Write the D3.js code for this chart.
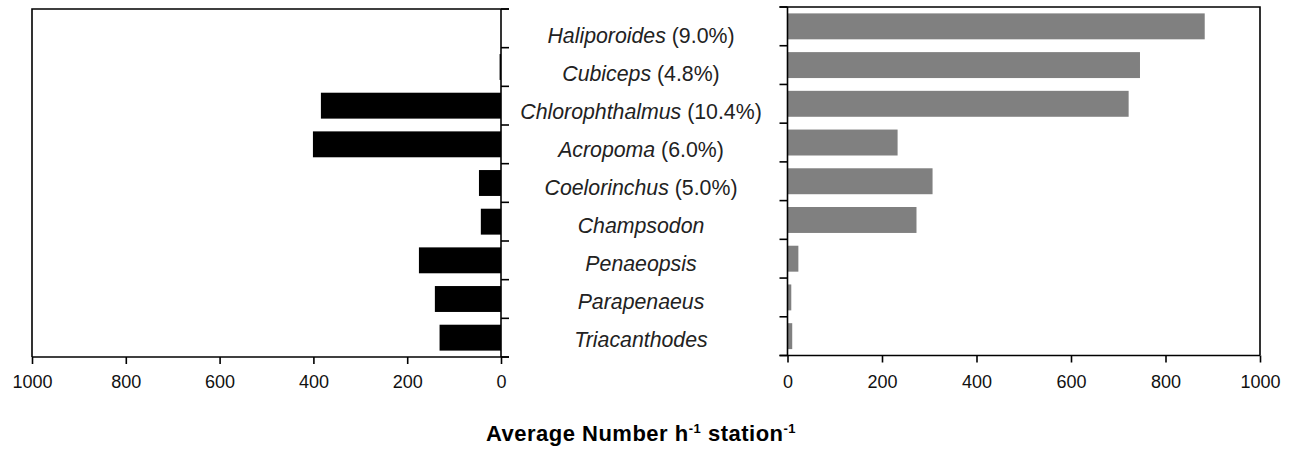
<!DOCTYPE html>
<html>
<head>
<meta charset="utf-8">
<script src="https://cdn.jsdelivr.net/npm/d3@7"></script>
<style>
  body { margin: 0; background: #fff; }
  svg { display: block; font-family: "Liberation Sans", Arial, sans-serif; }
</style>
</head>
<body>
<svg id="chart"></svg>
<script>
// Two mirrored bar panels sharing the genus labels in the middle

const width = 1294, height = 451;

const genera   = ["Haliporoides", "Cubiceps", "Chlorophthalmus", "Acropoma", "Coelorinchus",
                  "Champsodon", "Penaeopsis", "Parapenaeus", "Triacanthodes"];
const percents = ["9.0%", "4.8%", "10.4%", "6.0%", "5.0%", "", "", "", ""];
const leftValues  = [0, 3, 384, 401, 47, 43, 175, 141, 131];
const rightValues = [883, 746, 722, 233, 307, 273, 23, 8, 10];
const xTicks = [0, 200, 400, 600, 800, 1000];

const data = genera.map((g, i) => ({
  name: g, pct: percents[i], left: leftValues[i], right: rightValues[i]
}));

const svg = d3.select("#chart")
  .attr("width", width)
  .attr("height", height);

// scales
const xLeft  = d3.scaleLinear().domain([1000, 0]).range([32, 501]);
const xRight = d3.scaleLinear().domain([0, 1000]).range([787.5, 1260]);
const yLeft  = d3.scaleBand().domain(genera).range([9, 357]).paddingInner(0.33).paddingOuter(0.165);
const yRight = d3.scaleBand().domain(genera).range([7, 355.5]).paddingInner(0.33).paddingOuter(0.165);
// the labels sit on their own slightly tighter grid
const yLabel = d3.scalePoint().domain(genera).range([36, 340]);

// bars
svg.append("g").selectAll("rect")
  .data(data)
  .join("rect")
  .attr("x", d => xLeft(d.left))
  .attr("y", d => yLeft(d.name))
  .attr("width", d => xLeft(0) - xLeft(d.left))
  .attr("height", yLeft.bandwidth())
  .attr("fill", "#000");

svg.append("g").selectAll("rect")
  .data(data)
  .join("rect")
  .attr("x", xRight(0))
  .attr("y", d => yRight(d.name))
  .attr("width", d => xRight(d.right) - xRight(0))
  .attr("height", yRight.bandwidth())
  .attr("fill", "#808080");

// band boundary ticks for the value axes
function boundaries(scale) {
  const step = scale.step();
  const r = scale.range();
  return d3.range(genera.length + 1).map(i => r[0] + i * step);
}

const frame = { stroke: "#000", "stroke-width": 1.6, fill: "none" };
function styled(sel) {
  Object.entries(frame).forEach(([k, v]) => sel.attr(k, v));
  return sel;
}

// left panel: frame on left + top, y axis at zero on the right
const lTop = yLeft.range()[0], lBot = yLeft.range()[1];
styled(svg.append("path")
  .attr("d", `M${xLeft(0) + 8},${lTop}H${xLeft(1000)}V${lBot}`));
styled(svg.append("line")
  .attr("x1", xLeft(0)).attr("x2", xLeft(0))
  .attr("y1", lTop).attr("y2", lBot));
svg.append("g").selectAll("line")
  .data(boundaries(yLeft))
  .join("line")
  .attr("x1", xLeft(0)).attr("x2", xLeft(0) + 8)
  .attr("y1", d => d).attr("y2", d => d)
  .attr("stroke", "#000").attr("stroke-width", 1.6);

// right panel: frame on right + top, y axis at zero on the left
const rTop = yRight.range()[0], rBot = yRight.range()[1];
styled(svg.append("path")
  .attr("d", `M${xRight(0) - 8},${rTop}H${xRight(1000)}V${rBot}`));
styled(svg.append("line")
  .attr("x1", xRight(0)).attr("x2", xRight(0))
  .attr("y1", rTop).attr("y2", rBot));
svg.append("g").selectAll("line")
  .data(boundaries(yRight))
  .join("line")
  .attr("x1", xRight(0) - 8).attr("x2", xRight(0))
  .attr("y1", d => d).attr("y2", d => d)
  .attr("stroke", "#000").attr("stroke-width", 1.6);

// bottom axes
function styleAxis(g) {
  g.attr("font-size", null).attr("font-family", null);
  g.select(".domain").remove();
  g.selectAll(".tick line").attr("stroke", "#000").attr("stroke-width", 1.6);
  g.selectAll(".tick text")
    .attr("fill", "#111")
    .style("font-size", "18px")
    .attr("dy", "1.02em");
}

const axL = svg.append("g")
  .attr("transform", `translate(0,${lBot})`)
  .call(d3.axisBottom(xLeft).tickValues(xTicks).tickFormat(d3.format("d")).tickSize(7).tickPadding(6));
styleAxis(axL);
styled(axL.append("line").attr("x1", xLeft(1000)).attr("x2", xLeft(0) + 8));

const axR = svg.append("g")
  .attr("transform", `translate(0,${rBot})`)
  .call(d3.axisBottom(xRight).tickValues(xTicks).tickFormat(d3.format("d")).tickSize(7).tickPadding(7));
styleAxis(axR);
styled(axR.append("line").attr("x1", xRight(0) - 8).attr("x2", xRight(1000)));

// genus labels
const labels = svg.append("g").selectAll("text")
  .data(data)
  .join("text")
  .attr("x", 641)
  .attr("y", d => yLabel(d.name))
  .attr("dy", "0.35em")
  .attr("text-anchor", "middle")
  .style("font-size", "21.3px")
  .attr("fill", "#222");
labels.append("tspan").attr("font-style", "italic").text(d => d.name);
labels.filter(d => d.pct).append("tspan").text(d => ` (${d.pct})`);

// axis title
const title = svg.append("text")
  .attr("x", 641)
  .attr("y", 441)
  .attr("text-anchor", "middle")
  .style("font-size", "22px")
  .style("letter-spacing", "0.5px")
  .attr("font-weight", "bold")
  .attr("fill", "#000");
title.append("tspan").text("Average Number h");
title.append("tspan").style("font-size", "13px").attr("dy", -8).text("-1");
title.append("tspan").attr("dy", 8).text(" station");
title.append("tspan").style("font-size", "13px").attr("dy", -8).text("-1");
</script>
</body>
</html>
